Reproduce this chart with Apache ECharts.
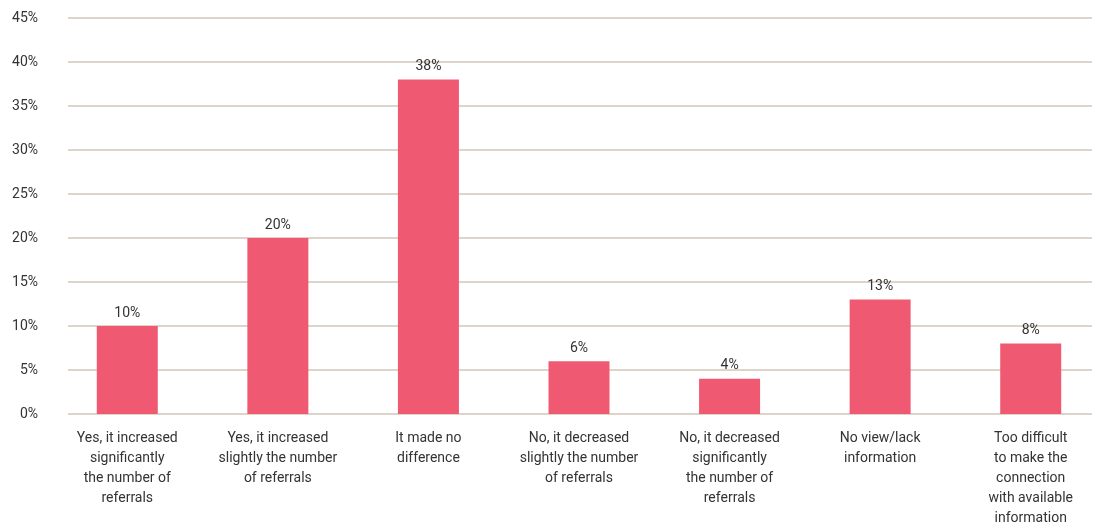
<!DOCTYPE html>
<html><head><meta charset="utf-8">
<script src="https://cdn.jsdelivr.net/npm/echarts@6/dist/echarts.min.js"></script>
<style>html,body{margin:0;padding:0;background:#fff}#c{width:1098px;height:523px}</style>
</head><body><div id="c"></div>
<script>
const categories = [
  "Yes, it increased\nsignificantly\nthe number of\nreferrals",
  "Yes, it increased\nslightly the number\nof referrals",
  "It made no\ndifference",
  "No, it decreased\nslightly the number\nof referrals",
  "No, it decreased\nsignificantly\nthe number of\nreferrals",
  "No view/lack\ninformation",
  "Too difficult\nto make the\nconnection\nwith available\ninformation"
];
const values = [10, 20, 38, 6, 4, 13, 8];
const yTicks = { min: 0, max: 45, interval: 5 };

const FONT = 'Roboto, "Liberation Sans", sans-serif';
const TXT = '#333333';
const GRID = '#D3C6B8';
const chart = echarts.init(document.getElementById('c'));
chart.setOption({
  animation: false,
  grid: [
    { left: 68, right: 6, top: 18, bottom: 109, outerBoundsMode: 'none', containLabel: false },
    { left: 52, width: 1054, top: 18, bottom: 109, outerBoundsMode: 'none', containLabel: false }
  ],
  xAxis: [
    { gridIndex: 0, type: 'category', data: categories, show: false },
    { gridIndex: 1, type: 'category', data: categories,
      axisLine: { show: false }, axisTick: { show: false },
      axisLabel: { interval: 0, color: TXT, fontFamily: FONT, fontSize: 14, lineHeight: 20, margin: 14 } }
  ],
  yAxis: [
    { gridIndex: 0, type: 'value', min: yTicks.min, max: yTicks.max, interval: yTicks.interval,
      axisLabel: { formatter: v => v + '%', color: TXT, fontFamily: FONT, fontSize: 14, margin: 30 },
      axisLine: { show: false }, axisTick: { show: false },
      splitLine: { lineStyle: { color: GRID, width: 1.5 } } },
    { gridIndex: 1, type: 'value', min: yTicks.min, max: yTicks.max, interval: yTicks.interval,
      show: false, splitLine: { show: false } }
  ],
  series: [{
    type: 'bar', xAxisIndex: 1, yAxisIndex: 1, data: values, barWidth: 61,
    itemStyle: { color: '#EF5A72' },
    label: { show: true, position: 'top', distance: 6, formatter: p => p.value + '%',
      color: TXT, fontFamily: FONT, fontSize: 14 }
  }]
});
</script></body></html>
